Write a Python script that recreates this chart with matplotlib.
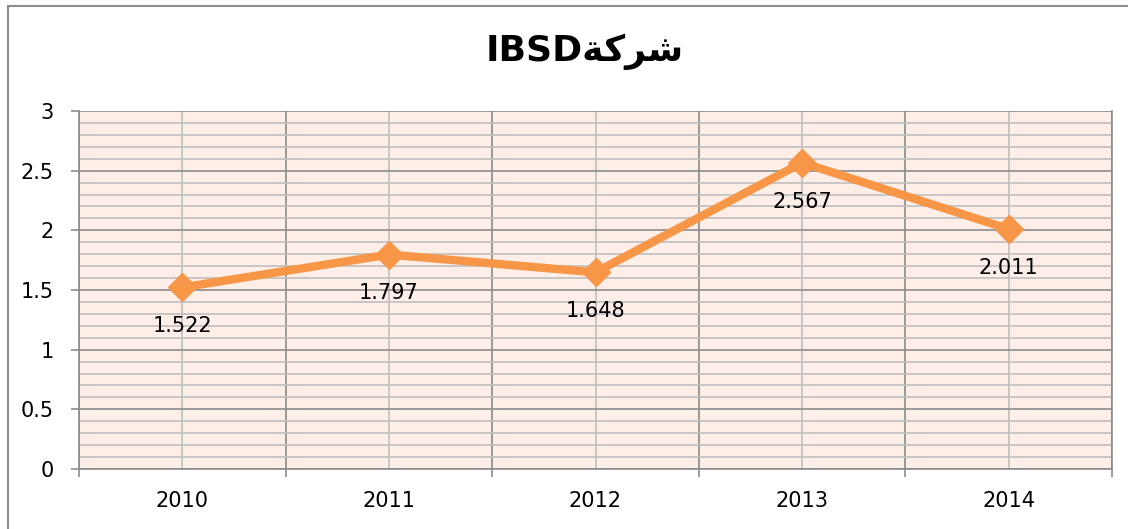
import matplotlib.pyplot as plt
from matplotlib.patches import Rectangle
from matplotlib.ticker import MultipleLocator, FixedLocator, NullFormatter, FuncFormatter

# Datos
anios = ['2010', '2011', '2012', '2013', '2014']
valores = [1.522, 1.797, 1.648, 2.567, 2.011]
# título "شركةIBSD" en formas de presentación (orden visual)
titulo = 'IBSD' + '\uFE94\uFEDB\uFEAE\uFEB7'

fig = plt.figure(figsize=(11.28, 5.29), dpi=100)
fig.patches.append(Rectangle((8 / 1128, -0.1), 1.2, (529 - 6) / 529 + 0.1,
                             transform=fig.transFigure, fill=False,
                             edgecolor='#8c8c8c', linewidth=1.5))

ax = fig.add_axes([79 / 1128, 60 / 529, (1112 - 79) / 1128, (469 - 111) / 529])
ax.set_facecolor('#fdeee8')

x = list(range(len(anios)))
ax.set_xlim(-0.5, len(anios) - 0.5)
ax.set_ylim(0, 3)

# Rejilla horizontal
ax.yaxis.set_major_locator(MultipleLocator(0.5))
ax.yaxis.set_minor_locator(MultipleLocator(0.1))
ax.yaxis.set_major_formatter(FuncFormatter(lambda v, p: f'{v:g}'))
ax.grid(axis='y', which='minor', color='#bfbfbf', linewidth=1.2)
ax.grid(axis='y', which='major', color='#8c8c8c', linewidth=1.2)

# Rejilla vertical: límites de categoría (oscuro) y centros (claro)
ax.xaxis.set_major_locator(FixedLocator([i - 0.5 for i in range(len(anios) + 1)]))
ax.xaxis.set_major_formatter(NullFormatter())
ax.xaxis.set_minor_locator(FixedLocator(x))
ax.set_xticklabels(anios, minor=True)
ax.grid(axis='x', which='major', color='#8c8c8c', linewidth=1.2)
ax.grid(axis='x', which='minor', color='#bfbfbf', linewidth=1.2)
ax.set_axisbelow(True)

ax.tick_params(axis='x', which='major', length=6, color='#8c8c8c', width=1.2)
ax.tick_params(axis='x', which='minor', length=0, pad=16, labelsize=15)
ax.tick_params(axis='y', which='major', length=6, color='#8c8c8c', width=1.2,
               labelsize=15, pad=12)
ax.tick_params(axis='y', which='minor', length=0)

for s in ax.spines.values():
    s.set_color('#8c8c8c')
    s.set_linewidth(1.2)
ax.spines['top'].set_visible(False)

ax.plot(x, valores, color='#f79646', linewidth=6, marker='D', markersize=14,
        zorder=3)

for i, v in enumerate(valores):
    ax.annotate(f'{v:.3f}', (i, v), xytext=(0, -28), textcoords='offset points',
                ha='center', va='center', fontsize=15)

fig.text(585 / 1128, 1 - 52 / 529, titulo, ha='center', va='center',
         fontsize=26, fontweight='bold', family='DejaVu Sans')

fig.savefig('out.png', dpi=100)
